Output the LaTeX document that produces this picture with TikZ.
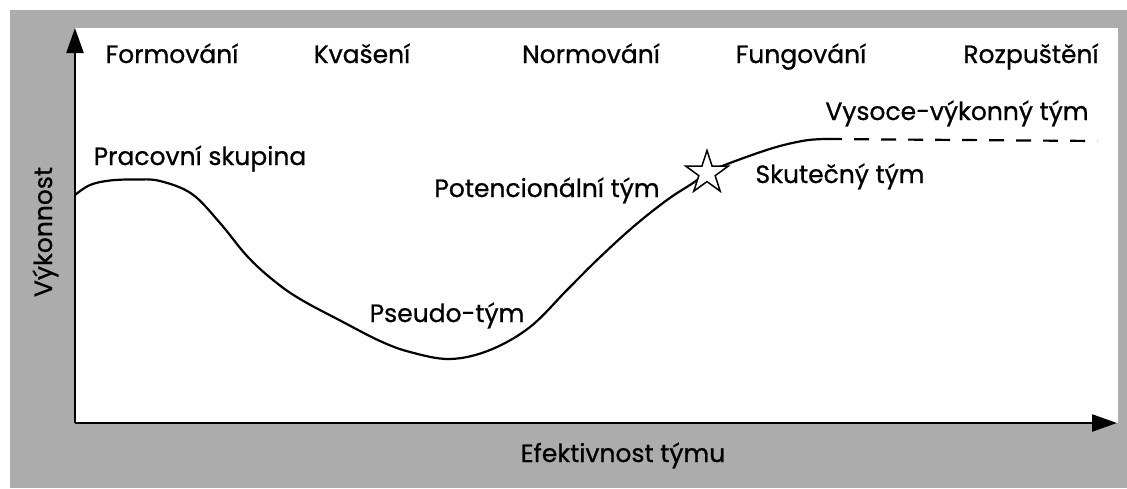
\documentclass[tikz,border=0pt]{standalone}
\usepackage{fontspec}
\setmainfont{Poppins}[FakeBold=0.8]
\usetikzlibrary{arrows.meta,shapes.geometric}
\definecolor{scan}{RGB}{172,172,172}
\begin{document}
\begin{tikzpicture}[x=1pt,y=-1pt,
  lbl/.style={font=\fontsize{25}{30}\selectfont, inner sep=0pt, anchor=base},
  axis/.style={line width=2.4pt, -{Triangle[length=25pt,width=17pt]}},
  curve/.style={line width=2.2pt, line cap=round, line join=round},
  future/.style={line width=2.2pt, dash pattern=on 15pt off 12pt},
  milestone/.style={star, star points=5, star point ratio=2.618, minimum size=45pt, inner sep=0pt, draw, fill=white, line width=1.5pt},
]
\useasboundingbox (0,0) rectangle (1127,488);
\fill[white] (0,0) rectangle (1127,488);
\fill[scan] (10,10) rectangle (1127,488);
\fill[white] (75,28) rectangle (1118,423);
\coordinate (O) at (75,423);
\coordinate (ytip) at (75,28);
\coordinate (xtip) at (1117,423);
\draw[axis] (O) -- (ytip);
\draw[axis] (O) -- (xtip);

\draw[curve] plot[smooth, tension=0.6] coordinates {
 (75,195) (90,185) (110,180.5) (135,179.5) (160,181) (192,194) (220,223) (247,256) (273,280)
 (300,299) (343,322) (380,341) (410,352) (450,359) (490,350) (530,327) (567,290)
 (597,260) (633,227) (667,200) (693,183) (707,173) (730,163) (773,148) (805,140.5) (827,139)};
\coordinate (hpstart) at (827,139);
\coordinate (hpend) at (1097,141);
\draw[future] (hpstart) -- (hpend);
\node[milestone] (star) at (707,173) {};

\node[lbl] (f1) at (172,63) {Formování};
\node[lbl] (f2) at (362,63) {Kvašení};
\node[lbl] (f3) at (591,63) {Normování};
\node[lbl] (f4) at (801,63) {Fungování};
\node[lbl] (f5) at (1031,63) {Rozpuštění};
\node[lbl] (vvt) at (957,120) {Vysoce-výkonný tým};
\node[lbl] (ps) at (200,165) {Pracovní skupina};
\node[lbl] (pt) at (547,197) {Potencionální tým};
\node[lbl] (st) at (840,183) {Skutečný tým};
\node[lbl] (pse) at (447,322) {Pseudo-tým};
\node[lbl] (xl) at (623,462) {Efektivnost týmu};
\node[lbl, rotate=90] (yl) at (52,232) {Výkonnost};
\end{tikzpicture}
\end{document}
